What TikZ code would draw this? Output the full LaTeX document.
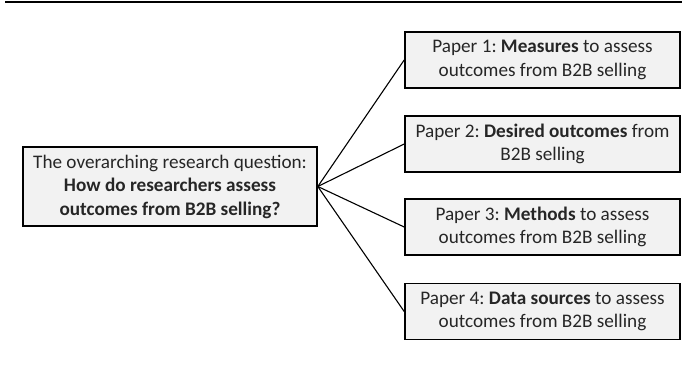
\documentclass[tikz,border=0pt]{standalone}
\usepackage{fontspec}
\setmainfont{Carlito}
\frenchspacing
\begin{document}
\begin{tikzpicture}[x=1pt,y=-1pt,
  box/.style={draw=black, line width=1.6pt, fill=black!5, align=center, inner sep=0pt,
    font=\fontsize{19.2}{23.5}\selectfont\frenchspacing, text=black!85},
  paper/.style={box, minimum width=275pt, minimum height=56pt},
  link/.style={draw=black, line width=1.1pt}]
\useasboundingbox (0,0) rectangle (682,368);
\coordinate (tl) at (5,2);
\coordinate (tr) at (682,2);
\draw[line width=2.4pt] (tl) -- (tr);
\node[box, minimum width=294pt, minimum height=79pt] (q) at (170,186.5)
  {The overarching research question:\\ \textbf{How do researchers assess}\\ \textbf{outcomes from B2B selling?}};
\node[paper] (p1) at (542.5,60) {Paper 1: \textbf{Measures} to assess\\ outcomes from B2B selling};
\node[paper] (p2) at (542.5,144) {Paper 2: \textbf{Desired outcomes} from\\ B2B selling};
\node[paper] (p3) at (542.5,227) {Paper 3: \textbf{Methods} to assess\\ outcomes from B2B selling};
\node[paper] (p4) at (542.5,311.5) {Paper 4: \textbf{Data sources} to assess\\ outcomes from B2B selling};
\foreach \p in {p1,p2,p3,p4} \draw[link] (q.east) -- (\p.west);
\end{tikzpicture}
\end{document}
